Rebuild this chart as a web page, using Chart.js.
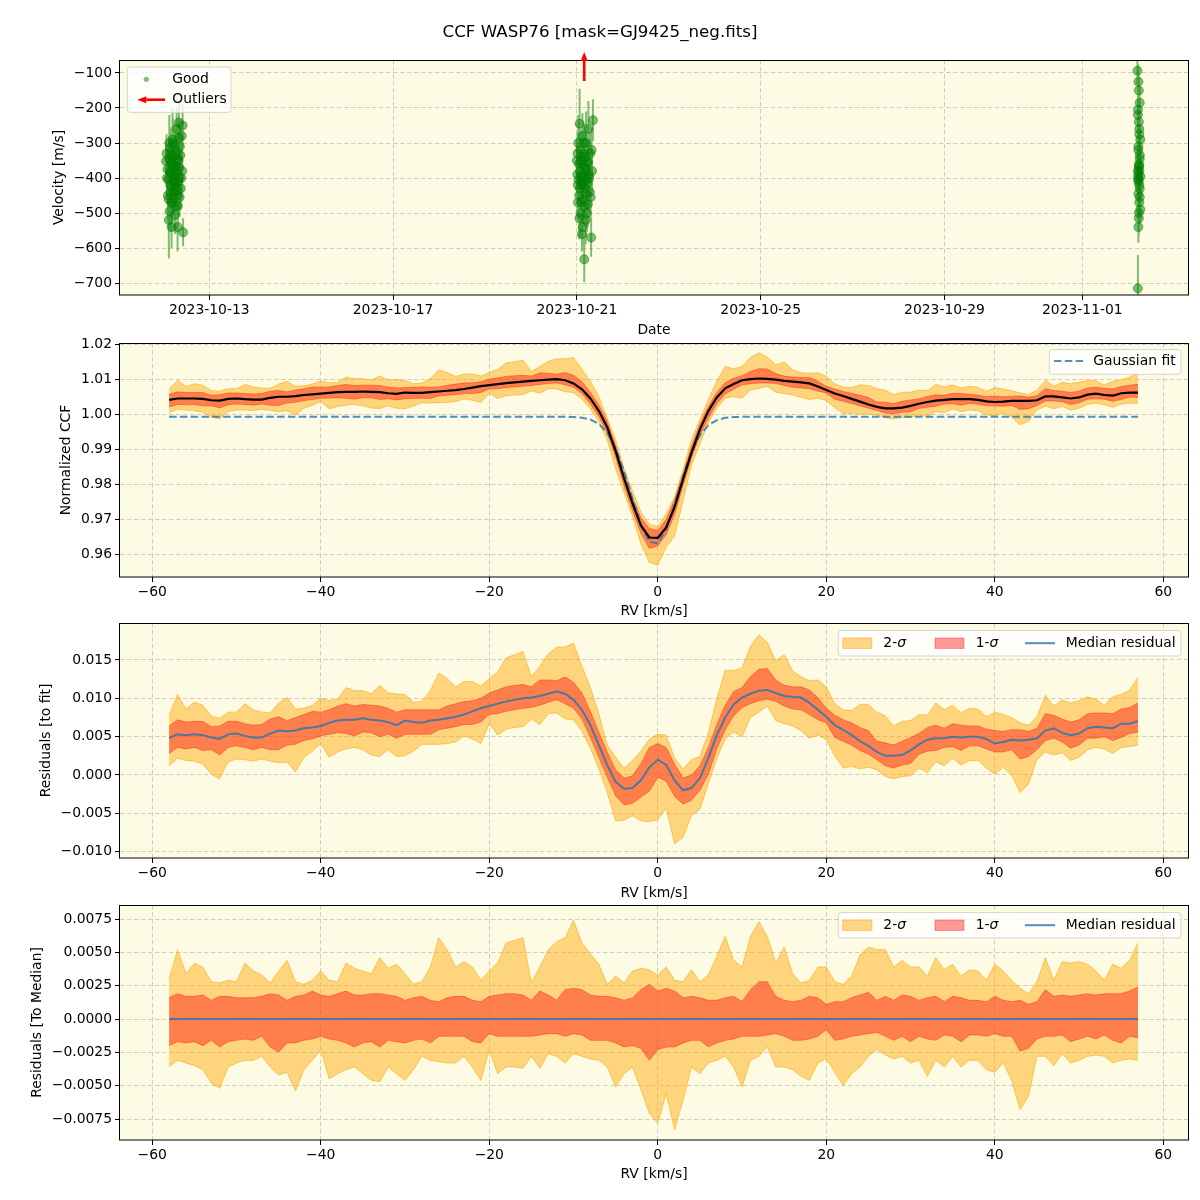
<!DOCTYPE html>
<html>
<head>
<meta charset="utf-8">
<script src="https://cdn.jsdelivr.net/npm/chart.js@4.4.0/dist/chart.umd.min.js"></script>
<style>
  html, body { margin: 0; padding: 0; background: #ffffff; }
  body { width: 1200px; height: 1200px; position: relative; overflow: hidden; font-family: 'DejaVu Sans', sans-serif; }
  canvas { position: absolute; left: 0; }
  #title { position: absolute; left: 0; top: 21px; width: 1200px; text-align: center; font-size: 16.67px; line-height: 22px; color: #000; z-index: 10; }
</style>
</head>
<body>
<canvas id="c1" width="1200" height="345" style="top:0px;width:1200px;height:345px"></canvas>
<canvas id="c2" width="1200" height="297" style="top:330px;width:1200px;height:297px"></canvas>
<canvas id="c3" width="1200" height="298" style="top:610px;width:1200px;height:298px"></canvas>
<canvas id="c4" width="1200" height="298" style="top:892px;width:1200px;height:298px"></canvas>
<div id="title">CCF WASP76 [mask=GJ9425_neg.fits]</div>
<script>
// ---------------- DATA ----------------
// Panel 1: radial velocities (time = day of October 2023, value in m/s, error in m/s)
const tGood = [
  12.06,12.08,12.10,12.12,12.13,12.14,12.15,12.16,12.17,12.18,12.19,12.20,12.21,12.22,12.23,12.24,
  12.25,12.26,12.27,12.28,12.29,12.30,12.31,12.32,12.33,12.34,12.35,12.36,12.38,12.40,12.41,12.43,
  12.07,12.09,12.11,12.115,12.125,12.135,12.145,12.155,12.165,12.175,12.185,12.195,12.205,12.215,12.225,12.235,
  12.245,12.255,12.265,12.275,12.285,12.295,12.305,12.315,12.325,12.335,12.345,12.355,12.37,12.39,12.42,
  21.00,21.02,21.03,21.05,21.06,21.07,21.08,21.09,21.10,21.11,21.12,21.13,21.14,21.15,21.16,21.17,
  21.18,21.19,21.20,21.21,21.22,21.24,21.25,21.26,21.28,21.29,21.31,21.33,21.35,
  21.01,21.015,21.025,21.035,21.045,21.055,21.065,21.075,21.085,21.095,21.105,21.115,21.125,21.135,21.145,21.155,
  21.165,21.175,21.185,21.195,21.205,21.215,21.23,21.245,21.27,21.30,21.32,
  33.20,33.22,33.25,33.21,33.23,33.24,33.26,33.22,33.25,33.23,33.24,33.26,33.22,33.25,33.24,33.26,
  33.23,33.22,33.21,
  33.23,33.21,33.24,33.22,33.25,33.23,33.21,33.24,33.22,33.25,33.23,33.24,33.22,33.21,33.23
];
const vGood = [
  -352,-400,-450,-520,-300,-380,-420,-330,-470,-540,-360,-290,-410,-395,-440,-310,
  -365,-480,-335,-425,-260,-385,-540,-450,-350,-242,-400,-310,-430,-280,-380,-555,
  -330,-375,-405,-460,-345,-495,-315,-440,-385,-355,-425,-470,-340,-300,-455,-375,
  -415,-505,-395,-365,-325,-435,-345,-480,-410,-285,-370,-455,-335,-400,-250,
  -350,-420,-300,-450,-245,-380,-500,-340,-420,-560,-280,-395,-460,-330,-632,-370,
  -430,-520,-300,-405,-355,-475,-260,-390,-440,-330,-570,-380,-235,
  -390,-330,-470,-405,-360,-515,-430,-320,-395,-470,-350,-410,-540,-365,-420,-300,
  -480,-395,-340,-445,-375,-500,-415,-355,-400,-455,-320,
  -94,-125,-185,-205,-240,-260,-290,-320,-335,-360,-380,-395,-410,-430,-470,-490,
  -515,-540,-715,
  -150,-220,-275,-310,-345,-370,-400,-420,-445,-455,-500,-365,-390,-380,-405
];
const eGood = [
  60,55,70,110,80,50,60,70,65,60,55,90,60,50,70,60,
  55,80,60,65,60,55,70,50,60,70,60,55,60,50,60,40,
  55,60,50,65,60,55,60,50,55,60,65,55,60,70,50,55,
  60,55,50,60,65,55,60,50,55,60,65,55,60,50,60,
  60,70,80,60,100,55,70,60,55,50,65,50,60,70,65,55,
  60,70,90,50,60,65,80,55,60,60,55,60,60,
  55,60,50,65,55,60,50,60,55,65,60,50,55,60,65,55,
  60,50,55,60,65,55,60,50,55,60,65,
  40,50,45,40,50,45,40,50,45,50,40,55,45,40,45,40,
  50,45,95,
  45,40,50,45,40,50,45,40,45,50,40,45,40,50,45
];
const tOutlier = [21.16];
const velTicks = [-700,-600,-500,-400,-300,-200,-100];
const dateTicks = [13,17,21,25,29,32];
const dateLabels = ['2023-10-13','2023-10-17','2023-10-21','2023-10-25','2023-10-29','2023-11-01'];

// Panels 2-4: RV grid (km/s)
const rv = [
  -58,-57,-56,-55,-54,-53,-52,-51,-50,-49,
  -48,-47,-46,-45,-44,-43,-42,-41,-40,-39,
  -38,-37,-36,-35,-34,-33,-32,-31,-30,-29,
  -28,-27,-26,-25,-24,-23,-22,-21,-20,-19,
  -18,-17,-16,-15,-14,-13,-12,-11,-10,-9,
  -8,-7,-6,-5,-4,-3,-2,-1,0,1,
  2,3,4,5,6,7,8,9,10,11,
  12,13,14,15,16,17,18,19,20,21,
  22,23,24,25,26,27,28,29,30,31,
  32,33,34,35,36,37,38,39,40,41,
  42,43,44,45,46,47,48,49,50,51,
  52,53,54,55,56,57
];
// Median normalized CCF
const ccfMedian = [
  1.0041,1.0045,1.0045,1.0045,1.0044,1.0040,1.0039,1.0044,1.0045,1.0043,
  1.0042,1.0042,1.0047,1.0050,1.0050,1.0052,1.0055,1.0057,1.0059,1.0061,
  1.0063,1.0064,1.0064,1.0065,1.0064,1.0063,1.0060,1.0058,1.0062,1.0061,
  1.0061,1.0063,1.0065,1.0067,1.0069,1.0072,1.0076,1.0080,1.0083,1.0086,
  1.0089,1.0091,1.0093,1.0095,1.0097,1.0099,1.0100,1.0097,1.0088,1.0071,
  1.0045,1.0010,0.9963,0.9895,0.9817,0.9746,0.9683,0.9649,0.9648,0.9678,
  0.9736,0.9815,0.9891,0.9957,1.0009,1.0048,1.0074,1.0086,1.0097,1.0100,
  1.0102,1.0101,1.0099,1.0095,1.0093,1.0091,1.0088,1.0079,1.0069,1.0059,
  1.0052,1.0044,1.0036,1.0028,1.0021,1.0017,1.0017,1.0019,1.0024,1.0030,
  1.0035,1.0039,1.0041,1.0043,1.0043,1.0043,1.0041,1.0037,1.0035,1.0036,
  1.0038,1.0038,1.0038,1.0040,1.0051,1.0051,1.0048,1.0045,1.0048,1.0056,
  1.0059,1.0055,1.0053,1.0060,1.0062,1.0062
];
// Gaussian fit
const gaussFit = [
  0.9993,0.9993,0.9993,0.9993,0.9993,0.9993,0.9993,0.9993,0.9993,0.9993,
  0.9993,0.9993,0.9993,0.9993,0.9993,0.9993,0.9993,0.9993,0.9993,0.9993,
  0.9993,0.9993,0.9993,0.9993,0.9993,0.9993,0.9993,0.9993,0.9993,0.9993,
  0.9993,0.9993,0.9993,0.9993,0.9993,0.9993,0.9993,0.9993,0.9993,0.9993,
  0.9993,0.9993,0.9993,0.9993,0.9993,0.9993,0.9993,0.9993,0.9992,0.9990,
  0.9985,0.9973,0.9947,0.9903,0.9838,0.9760,0.9685,0.9637,0.9632,0.9673,
  0.9744,0.9823,0.9892,0.9940,0.9969,0.9983,0.9990,0.9992,0.9993,0.9993,
  0.9993,0.9993,0.9993,0.9993,0.9993,0.9993,0.9993,0.9993,0.9993,0.9993,
  0.9993,0.9993,0.9993,0.9993,0.9993,0.9993,0.9993,0.9993,0.9993,0.9993,
  0.9993,0.9993,0.9993,0.9993,0.9993,0.9993,0.9993,0.9993,0.9993,0.9993,
  0.9993,0.9993,0.9993,0.9993,0.9993,0.9993,0.9993,0.9993,0.9993,0.9993,
  0.9993,0.9993,0.9993,0.9993,0.9993,0.9993
];
// Median residual to the fit
const resMedian = [
  0.0048,0.0053,0.0052,0.0053,0.0052,0.0049,0.0047,0.0053,0.0054,0.0051,
  0.0049,0.0049,0.0054,0.0058,0.0057,0.0058,0.0061,0.0062,0.0064,0.0068,
  0.0071,0.0072,0.0072,0.0074,0.0072,0.0071,0.0069,0.0065,0.0071,0.0069,
  0.0068,0.0071,0.0072,0.0074,0.0076,0.0079,0.0083,0.0087,0.0090,0.0093,
  0.0096,0.0098,0.0100,0.0101,0.0103,0.0106,0.0109,0.0106,0.0098,0.0085,
  0.0065,0.0039,0.0013,-0.0009,-0.0018,-0.0017,-0.0007,0.0010,0.0020,0.0013,
  -0.0007,-0.0020,-0.0017,-0.0004,0.0022,0.0052,0.0075,0.0092,0.0101,0.0106,
  0.0110,0.0111,0.0107,0.0103,0.0102,0.0101,0.0094,0.0085,0.0076,0.0065,
  0.0059,0.0052,0.0044,0.0038,0.0030,0.0025,0.0025,0.0026,0.0032,0.0040,
  0.0046,0.0048,0.0048,0.0050,0.0049,0.0050,0.0050,0.0047,0.0041,0.0043,
  0.0046,0.0045,0.0046,0.0048,0.0058,0.0061,0.0055,0.0052,0.0054,0.0061,
  0.0063,0.0062,0.0061,0.0067,0.0067,0.0070
];
// Median residual to the median (zero)
const medToMedian = [
  0,0,0,0,0,0,0,0,0,0, 0,0,0,0,0,0,0,0,0,0, 0,0,0,0,0,0,0,0,0,0,
  0,0,0,0,0,0,0,0,0,0, 0,0,0,0,0,0,0,0,0,0, 0,0,0,0,0,0,0,0,0,0,
  0,0,0,0,0,0,0,0,0,0, 0,0,0,0,0,0,0,0,0,0, 0,0,0,0,0,0,0,0,0,0,
  0,0,0,0,0,0,0,0,0,0, 0,0,0,0,0,0,0,0,0,0, 0,0,0,0,0,0
];
// Percentile offsets relative to the median (2-sigma / 1-sigma, upper / lower)
const sig2Hi = [
  0.0030,0.0052,0.0034,0.0042,0.0039,0.0028,0.0027,0.0029,0.0028,0.0042,
  0.0036,0.0033,0.0027,0.0036,0.0044,0.0028,0.0026,0.0029,0.0036,0.0029,
  0.0028,0.0042,0.0038,0.0036,0.0034,0.0046,0.0038,0.0041,0.0034,0.0026,
  0.0028,0.0039,0.0061,0.0052,0.0039,0.0043,0.0039,0.0029,0.0036,0.0042,
  0.0057,0.0059,0.0061,0.0027,0.0039,0.0052,0.0058,0.0061,0.0074,0.0057,
  0.0049,0.0041,0.0026,0.0032,0.0027,0.0036,0.0038,0.0037,0.0033,0.0039,
  0.0029,0.0028,0.0037,0.0028,0.0033,0.0047,0.0062,0.0044,0.0039,0.0062,
  0.0073,0.0062,0.0042,0.0054,0.0034,0.0027,0.0029,0.0039,0.0039,0.0028,
  0.0026,0.0032,0.0048,0.0054,0.0052,0.0052,0.0039,0.0044,0.0039,0.0039,
  0.0032,0.0046,0.0037,0.0041,0.0032,0.0037,0.0036,0.0029,0.0041,0.0036,
  0.0029,0.0023,0.0019,0.0028,0.0046,0.0029,0.0043,0.0042,0.0043,0.0041,
  0.0036,0.0029,0.0041,0.0038,0.0044,0.0057
];
const sig1Hi = [
  0.0016,0.0019,0.0017,0.0017,0.0018,0.0014,0.0017,0.0017,0.0016,0.0016,
  0.0016,0.0017,0.0019,0.0018,0.0014,0.0017,0.0018,0.0021,0.0018,0.0017,
  0.0019,0.0021,0.0018,0.0018,0.0019,0.0019,0.0018,0.0017,0.0014,0.0016,
  0.0017,0.0014,0.0013,0.0016,0.0017,0.0017,0.0014,0.0013,0.0017,0.0018,
  0.0019,0.0019,0.0018,0.0014,0.0021,0.0018,0.0014,0.0022,0.0023,0.0022,
  0.0018,0.0017,0.0017,0.0016,0.0014,0.0016,0.0022,0.0026,0.0021,0.0023,
  0.0021,0.0016,0.0017,0.0016,0.0014,0.0014,0.0016,0.0017,0.0013,0.0022,
  0.0028,0.0028,0.0017,0.0014,0.0013,0.0014,0.0017,0.0016,0.0011,0.0013,
  0.0013,0.0016,0.0018,0.0020,0.0014,0.0017,0.0014,0.0018,0.0017,0.0014,
  0.0016,0.0017,0.0013,0.0017,0.0016,0.0014,0.0014,0.0013,0.0017,0.0014,
  0.0013,0.0014,0.0011,0.0013,0.0022,0.0017,0.0018,0.0017,0.0018,0.0019,
  0.0018,0.0019,0.0019,0.0019,0.0021,0.0024
];
const sig1Lo = [
  -0.0020,-0.0017,-0.0018,-0.0017,-0.0020,-0.0016,-0.0021,-0.0017,-0.0016,-0.0015,
  -0.0016,-0.0013,-0.0021,-0.0025,-0.0018,-0.0018,-0.0016,-0.0015,-0.0013,-0.0015,
  -0.0016,-0.0018,-0.0021,-0.0018,-0.0017,-0.0021,-0.0016,-0.0017,-0.0018,-0.0016,
  -0.0015,-0.0018,-0.0013,-0.0013,-0.0013,-0.0013,-0.0017,-0.0018,-0.0011,-0.0013,
  -0.0013,-0.0013,-0.0013,-0.0013,-0.0012,-0.0011,-0.0011,-0.0013,-0.0011,-0.0012,
  -0.0016,-0.0016,-0.0016,-0.0018,-0.0021,-0.0020,-0.0022,-0.0031,-0.0023,-0.0021,
  -0.0021,-0.0018,-0.0016,-0.0016,-0.0021,-0.0018,-0.0016,-0.0015,-0.0013,-0.0013,
  -0.0013,-0.0012,-0.0011,-0.0013,-0.0016,-0.0016,-0.0015,-0.0013,-0.0008,-0.0016,
  -0.0015,-0.0013,-0.0012,-0.0011,-0.0010,-0.0013,-0.0016,-0.0013,-0.0017,-0.0013,
  -0.0015,-0.0016,-0.0012,-0.0013,-0.0017,-0.0012,-0.0012,-0.0013,-0.0011,-0.0013,
  -0.0013,-0.0024,-0.0022,-0.0015,-0.0013,-0.0013,-0.0012,-0.0017,-0.0015,-0.0013,
  -0.0015,-0.0012,-0.0016,-0.0018,-0.0013,-0.0014
];
const sig2Lo = [
  -0.0036,-0.0031,-0.0033,-0.0035,-0.0038,-0.0048,-0.0052,-0.0036,-0.0033,-0.0031,
  -0.0031,-0.0028,-0.0036,-0.0042,-0.0040,-0.0054,-0.0038,-0.0031,-0.0023,-0.0045,
  -0.0041,-0.0038,-0.0036,-0.0041,-0.0046,-0.0047,-0.0036,-0.0041,-0.0046,-0.0038,
  -0.0028,-0.0031,-0.0032,-0.0033,-0.0033,-0.0028,-0.0036,-0.0046,-0.0023,-0.0041,
  -0.0036,-0.0036,-0.0037,-0.0028,-0.0037,-0.0026,-0.0028,-0.0033,-0.0026,-0.0028,
  -0.0030,-0.0031,-0.0036,-0.0051,-0.0041,-0.0036,-0.0053,-0.0071,-0.0078,-0.0056,
  -0.0083,-0.0061,-0.0036,-0.0041,-0.0033,-0.0031,-0.0028,-0.0036,-0.0051,-0.0031,
  -0.0028,-0.0021,-0.0036,-0.0036,-0.0038,-0.0043,-0.0046,-0.0033,-0.0030,-0.0040,
  -0.0050,-0.0041,-0.0036,-0.0028,-0.0023,-0.0027,-0.0030,-0.0028,-0.0033,-0.0031,
  -0.0043,-0.0031,-0.0036,-0.0028,-0.0036,-0.0031,-0.0031,-0.0038,-0.0040,-0.0033,
  -0.0046,-0.0068,-0.0058,-0.0028,-0.0028,-0.0035,-0.0026,-0.0033,-0.0031,-0.0028,
  -0.0027,-0.0028,-0.0033,-0.0031,-0.0030,-0.0031
];
const rvTicks = [-60,-40,-20,0,20,40,60];
const ccfTicks = [0.96,0.97,0.98,0.99,1.00,1.01,1.02];
const resTicks = [-0.010,-0.005,0.000,0.005,0.010,0.015];
const medTicks = [-0.0075,-0.0050,-0.0025,0.0000,0.0025,0.0050,0.0075];

// ---------------- STYLE / HELPERS ----------------
const FONT = "'DejaVu Sans', sans-serif";
const FS = 13.9;
Chart.defaults.font.family = FONT;
Chart.defaults.font.size = FS;
Chart.defaults.color = '#000';
const BG = 'rgb(253,251,227)';
const GRID = 'rgba(176,176,176,0.6)';
const ORANGE_FILL = 'rgba(255,165,0,0.45)';
const ORANGE_EDGE = 'rgba(255,165,0,0.55)';
const RED_FILL = 'rgba(255,0,0,0.4)';
const RED_EDGE = 'rgba(255,0,0,0.35)';
const BLUE = 'rgba(31,119,180,0.8)';
const GREEN = 'rgba(0,128,0,0.5)';

const minus = s => s.replace('-', '\u2212');
const pts = (xs, ys) => xs.map((x, i) => ({x: x, y: ys[i]}));
const addArr = (a, b) => a.map((v, i) => v + b[i]);

function xScale(min, max, ticks, fmt, title, titlePad) {
  return {
    type: 'linear', position: 'bottom', min: min, max: max,
    afterBuildTicks: s => { s.ticks = ticks.map(v => ({value: v})); },
    afterFit: s => { s.height = 50; },
    ticks: { autoSkip: false, maxRotation: 0, minRotation: 0, padding: 2, color: '#000', font: {size: FS}, callback: fmt },
    grid: { color: GRID, lineWidth: 1, drawTicks: true, tickLength: 5, tickColor: '#000', tickWidth: 1 },
    border: { display: false, dash: [4.5, 2.5] },
    title: { display: true, text: title, color: '#000', font: {size: FS}, padding: {top: 0, bottom: titlePad} }
  };
}
function yScale(min, max, ticks, fmt, title, titlePad) {
  return {
    type: 'linear', position: 'left', min: min, max: max,
    afterBuildTicks: s => { s.ticks = ticks.map(v => ({value: v})); },
    afterFit: s => { s.width = 120; },
    ticks: { autoSkip: false, padding: 3, color: '#000', font: {size: FS}, callback: fmt },
    grid: { color: GRID, lineWidth: 1, drawTicks: true, tickLength: 5, tickColor: '#000', tickWidth: 1 },
    border: { display: false, dash: [4.5, 2.5] },
    title: { display: true, text: title, color: '#000', font: {size: FS}, padding: {top: titlePad, bottom: 0} }
  };
}

function roundBox(ctx, x, y, w, h) {
  const r = 3;
  ctx.save();
  ctx.beginPath();
  ctx.moveTo(x + r, y);
  ctx.arcTo(x + w, y, x + w, y + h, r);
  ctx.arcTo(x + w, y + h, x, y + h, r);
  ctx.arcTo(x, y + h, x, y, r);
  ctx.arcTo(x, y, x + w, y, r);
  ctx.closePath();
  ctx.fillStyle = 'rgba(255,255,255,0.8)';
  ctx.fill();
  ctx.strokeStyle = 'rgba(204,204,204,0.8)';
  ctx.lineWidth = 1;
  ctx.stroke();
  ctx.restore();
}
function txt(ctx, s, x, y, italic) {
  ctx.save();
  ctx.font = (italic ? 'italic ' : '') + FS + 'px ' + FONT;
  ctx.fillStyle = '#000';
  ctx.textBaseline = 'middle';
  ctx.textAlign = 'left';
  ctx.fillText(s, x, y);
  const w = ctx.measureText(s).width;
  ctx.restore();
  return w;
}
function arrow(ctx, x1, y1, x2, y2, color, lw, headLen, headW) {
  const ang = Math.atan2(y2 - y1, x2 - x1);
  const bx = x2 - headLen * Math.cos(ang), by = y2 - headLen * Math.sin(ang);
  ctx.save();
  ctx.strokeStyle = color; ctx.fillStyle = color; ctx.lineWidth = lw;
  ctx.beginPath(); ctx.moveTo(x1, y1); ctx.lineTo(bx, by); ctx.stroke();
  ctx.beginPath();
  ctx.moveTo(x2, y2);
  ctx.lineTo(bx + headW / 2 * Math.sin(ang), by - headW / 2 * Math.cos(ang));
  ctx.lineTo(bx - headW / 2 * Math.sin(ang), by + headW / 2 * Math.cos(ang));
  ctx.closePath(); ctx.fill();
  ctx.restore();
}

function framePlugin(extra) {
  return {
    id: 'frame',
    beforeDraw(chart) {
      const a = chart.chartArea, ctx = chart.ctx;
      ctx.save(); ctx.fillStyle = BG;
      ctx.fillRect(a.left, a.top, a.right - a.left, a.bottom - a.top);
      ctx.restore();
    },
    afterDraw(chart) {
      const a = chart.chartArea, ctx = chart.ctx;
      ctx.save();
      ctx.strokeStyle = '#000'; ctx.lineWidth = 1;
      ctx.strokeRect(Math.round(a.left) - 0.5, Math.round(a.top) + 0.5,
                     Math.round(a.right - a.left) + 1, Math.round(a.bottom - a.top) - 0.5);
      ctx.restore();
      if (extra) extra(chart, ctx, a);
    }
  };
}

function sigmaLegend(chart, ctx, a) {
  const bx = a.right - 349.7, by = a.top + 7.5, w = 342.7, h = 25.5, cy = by + 12.7;
  roundBox(ctx, bx, by, w, h);
  ctx.save();
  ctx.fillStyle = ORANGE_FILL; ctx.strokeStyle = ORANGE_EDGE; ctx.lineWidth = 1;
  ctx.fillRect(bx + 4.5, cy - 5.2, 29, 10.4); ctx.strokeRect(bx + 4.5, cy - 5.2, 29, 10.4);
  ctx.fillStyle = RED_FILL; ctx.strokeStyle = RED_EDGE;
  ctx.fillRect(bx + 96.7, cy - 5.2, 29, 10.4); ctx.strokeRect(bx + 96.7, cy - 5.2, 29, 10.4);
  ctx.strokeStyle = BLUE; ctx.lineWidth = 2;
  ctx.beginPath(); ctx.moveTo(bx + 186.7, cy); ctx.lineTo(bx + 216.7, cy); ctx.stroke();
  ctx.restore();
  let w1 = txt(ctx, '2-', bx + 45, cy); txt(ctx, '\u03c3', bx + 45 + w1, cy, true);
  let w2 = txt(ctx, '1-', bx + 137.4, cy); txt(ctx, '\u03c3', bx + 137.4 + w2, cy, true);
  txt(ctx, 'Median residual', bx + 227.4, cy);
}

function bandSets(center, lineColor, lineWidth) {
  return [
    {data: pts(rv, addArr(center, sig2Hi)), fill: 1, backgroundColor: ORANGE_FILL, borderColor: ORANGE_EDGE, borderWidth: 1, pointRadius: 0, order: 3},
    {data: pts(rv, addArr(center, sig2Lo)), fill: false, borderColor: ORANGE_EDGE, borderWidth: 1, pointRadius: 0, order: 3},
    {data: pts(rv, addArr(center, sig1Hi)), fill: 3, backgroundColor: RED_FILL, borderColor: RED_EDGE, borderWidth: 1, pointRadius: 0, order: 2},
    {data: pts(rv, addArr(center, sig1Lo)), fill: false, borderColor: RED_EDGE, borderWidth: 1, pointRadius: 0, order: 2},
    {data: pts(rv, center), fill: false, borderColor: lineColor, borderWidth: lineWidth, pointRadius: 0, order: 0}
  ];
}

const baseOpts = (padTop, scales) => ({
  responsive: false, animation: false, devicePixelRatio: 1,
  layout: { padding: { top: padTop, right: 12, left: 0, bottom: 0 } },
  plugins: { legend: { display: false }, tooltip: { enabled: false } },
  elements: { line: { tension: 0 }, point: { radius: 0 } },
  scales: scales
});

const rvFmt = v => minus(String(v));
const XMIN = -63.83, XMAX = 62.93;

// ---------------- PANEL 1 ----------------
const errData = [];
tGood.forEach((t, i) => {
  errData.push({x: t, y: vGood[i] - eGood[i]}, {x: t, y: vGood[i] + eGood[i]}, {x: t, y: null});
});
new Chart(document.getElementById('c1'), {
  type: 'line',
  data: { datasets: [
    {data: errData, borderColor: GREEN, borderWidth: 2, pointRadius: 0, spanGaps: false, fill: false, order: 2},
    {data: pts(tGood, vGood), showLine: false, pointRadius: 4.5, pointBackgroundColor: GREEN, pointBorderColor: GREEN, pointBorderWidth: 1, order: 1}
  ]},
  options: baseOpts(60, {
    x: xScale(11.057, 34.30, dateTicks, (v, i) => dateLabels[i], 'Date', 6.6),
    y: yScale(-734, -63, velTicks, v => minus(String(v)), 'Velocity [m/s]', 50.6)
  }),
  plugins: [framePlugin((chart, ctx, a) => {
    const xs = chart.scales.x;
    tOutlier.forEach(t => {
      const px = xs.getPixelForValue(t);
      arrow(ctx, px, a.top + 21, px, a.top - 8, 'red', 2.6, 9, 7);
    });
    const bx = a.left + 7.3, by = a.top + 7, w = 103.7, h = 45.4;
    roundBox(ctx, bx, by, w, h);
    ctx.save();
    ctx.fillStyle = GREEN;
    ctx.beginPath(); ctx.arc(bx + 19, by + 12.3, 2.6, 0, Math.PI * 2); ctx.fill();
    ctx.restore();
    txt(ctx, 'Good', bx + 45, by + 12.3);
    arrow(ctx, bx + 37.7, by + 32.7, bx + 10, by + 32.7, 'red', 2.6, 9, 7);
    txt(ctx, 'Outliers', bx + 45, by + 32.3);
  })]
});

// ---------------- PANEL 2 ----------------
new Chart(document.getElementById('c2'), {
  type: 'line',
  data: { datasets: bandSets(ccfMedian, '#000000', 2.2).concat([
    {data: pts(rv, gaussFit), fill: false, borderColor: BLUE, borderWidth: 2, borderDash: [7.5, 3.3], pointRadius: 0, order: 1}
  ])},
  options: baseOpts(13, {
    x: xScale(XMIN, XMAX, rvTicks, rvFmt, 'RV [km/s]', 7.6),
    y: yScale(0.95365, 1.02031, ccfTicks, v => minus(v.toFixed(2)), 'Normalized CCF', 57.6)
  }),
  plugins: [framePlugin((chart, ctx, a) => {
    const bx = a.right - 138.7, by = a.top + 6.6, w = 131.7, h = 24.7, cy = by + 11.5;
    roundBox(ctx, bx, by, w, h);
    ctx.save();
    ctx.strokeStyle = BLUE; ctx.lineWidth = 2; ctx.setLineDash([7.5, 3.3]);
    ctx.beginPath(); ctx.moveTo(bx + 4.7, cy); ctx.lineTo(bx + 33.7, cy); ctx.stroke();
    ctx.restore();
    txt(ctx, 'Gaussian fit', bx + 44, cy);
  })]
});

// ---------------- PANEL 3 ----------------
new Chart(document.getElementById('c3'), {
  type: 'line',
  data: { datasets: bandSets(resMedian, BLUE, 2) },
  options: baseOpts(13, {
    x: xScale(XMIN, XMAX, rvTicks, rvFmt, 'RV [km/s]', 6.6),
    y: yScale(-0.010826, 0.019825, resTicks, v => minus(v.toFixed(3)), 'Residuals [to fit]', 37.6)
  }),
  plugins: [framePlugin(sigmaLegend)]
});

// ---------------- PANEL 4 ----------------
new Chart(document.getElementById('c4'), {
  type: 'line',
  data: { datasets: bandSets(medToMedian, BLUE, 2) },
  options: baseOpts(13, {
    x: xScale(XMIN, XMAX, rvTicks, rvFmt, 'RV [km/s]', 7.6),
    y: yScale(-0.009075, 0.00855, medTicks, v => minus(v.toFixed(4)), 'Residuals [To Median]', 28.6)
  }),
  plugins: [framePlugin(sigmaLegend)]
});
</script>
</body>
</html>
